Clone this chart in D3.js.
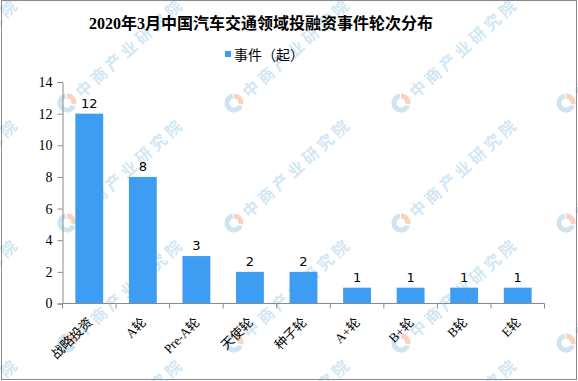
<!DOCTYPE html>
<html>
<head>
<meta charset="utf-8">
<script src="https://cdn.jsdelivr.net/npm/d3@7"></script>
<style>
  html, body { margin: 0; padding: 0; background: #fff; }
  svg { display: block; }
</style>
</head>
<body>
<svg id="chart" width="578" height="381"></svg>
<script>
// ---- data ----
const title = "2020年3月中国汽车交通领域投融资事件轮次分布";
const seriesName = "事件（起）";
const categories = ["战略投资", "A轮", "Pre-A轮", "天使轮", "种子轮", "A+轮", "B+轮", "B轮", "E轮"];
const values = [12, 8, 3, 2, 2, 1, 1, 1, 1];
const yTicks = [0, 2, 4, 6, 8, 10, 12, 14];
const watermarkText = "中商产业研究院";

// ---- layout ----
const W = 578, H = 381;
const plot = { left: 62.5, right: 544.5, top: 82, bottom: 303.5 };
const barColor = "#3d9df2";
const axisColor = "#8a8a8a";

const svg = d3.select("#chart");

svg.append("rect").attr("width", W).attr("height", H).attr("fill", "#fff");

// ---- watermark (decorative background) ----
const wmCols = [-98, 67, 234, 401, 566];
const wmRows = [-17, 103, 223, 343, 463];
const wm = svg.append("g").attr("class", "watermark");
wmRows.forEach(ry => wmCols.forEach(cx => {
  const g = wm.append("g").attr("transform", `translate(${cx},${ry})`);
  const arc = d3.arc().innerRadius(4.5).outerRadius(9.5);
  g.append("path").attr("d", arc({startAngle: Math.PI * 0.62, endAngle: Math.PI * 1.95}))
    .attr("fill", "#cfe3f1");
  g.append("path").attr("d", arc({startAngle: 0, endAngle: Math.PI * 0.55}))
    .attr("fill", "#f9d3c0");
  g.append("text")
    .attr("transform", "rotate(-42) translate(14,0)")
    .attr("dominant-baseline", "central")
    .attr("font-family", "'Noto Sans CJK SC', sans-serif")
    .attr("font-weight", "bold")
    .attr("font-size", 16)
    .attr("letter-spacing", 4)
    .attr("fill", "#d3e6f3")
    .text(watermarkText);
}));

// ---- scales ----
const x = d3.scaleBand().domain(categories).range([plot.left, plot.right]).paddingInner(0.48).paddingOuter(0.24);
const xb = d3.scaleBand().domain(categories).range([plot.left, plot.right]).padding(0);
const y = d3.scaleLinear().domain([0, 14]).range([plot.bottom, plot.top]);

// ---- bars ----
svg.append("g").selectAll("rect").data(values).join("rect")
  .attr("x", (d, i) => x(categories[i]))
  .attr("width", x.bandwidth())
  .attr("y", d => y(d))
  .attr("height", d => y(0) - y(d))
  .attr("fill", barColor);

// ---- value labels ----
svg.append("g").selectAll("text").data(values).join("text")
  .attr("x", (d, i) => x(categories[i]) + x.bandwidth() / 2)
  .attr("y", d => y(d) - 6)
  .attr("text-anchor", "middle")
  .attr("font-family", "'DejaVu Sans', sans-serif")
  .attr("font-size", 13)
  .attr("fill", "#000")
  .text(d => d);

// ---- y axis ----
const yAxis = svg.append("g")
  .attr("transform", `translate(${plot.left},0)`)
  .call(d3.axisLeft(y).tickValues(yTicks).tickSize(5).tickPadding(5));
yAxis.select(".domain").attr("stroke", axisColor);
yAxis.selectAll(".tick line").attr("stroke", axisColor);
yAxis.selectAll(".tick text")
  .attr("font-family", "'Liberation Serif', serif")
  .attr("font-size", 14)
  .attr("fill", "#000");

// ---- x axis ----
const xAxisG = svg.append("g").attr("transform", `translate(0,${plot.bottom})`);
xAxisG.append("line")
  .attr("x1", plot.left).attr("x2", plot.right)
  .attr("stroke", axisColor);
const boundaries = categories.map(c => xb(c)).concat([plot.right]);
xAxisG.selectAll("line.tk").data(boundaries).join("line")
  .attr("class", "tk")
  .attr("x1", d => d).attr("x2", d => d)
  .attr("y1", 0).attr("y2", 5)
  .attr("stroke", axisColor);
xAxisG.selectAll("text").data(categories).join("text")
  .attr("transform", c => `translate(${xb(c) + xb.bandwidth() / 2 + 4},${323 - plot.bottom}) rotate(-45)`)
  .attr("text-anchor", "end")
  .attr("font-family", "'Liberation Serif', 'Noto Sans CJK SC', serif")
  .attr("font-size", 13)
  .attr("fill", "#000")
  .text(c => c);

// ---- title ----
svg.append("text")
  .attr("x", 261).attr("y", 29)
  .attr("text-anchor", "middle")
  .attr("font-family", "'Liberation Serif', 'Noto Sans CJK SC', serif")
  .attr("font-weight", "bold")
  .attr("font-size", 16)
  .attr("fill", "#000")
  .text(title);

// ---- legend ----
const lg = svg.append("g").attr("transform", "translate(225,51)");
lg.append("rect").attr("x", 0).attr("y", 0).attr("width", 6).attr("height", 6).attr("fill", barColor);
lg.append("text")
  .attr("x", 9).attr("y", 3)
  .attr("dominant-baseline", "central")
  .attr("font-family", "'Noto Sans CJK SC', sans-serif")
  .attr("font-size", 14)
  .attr("fill", "#000")
  .text(seriesName);

// ---- outer border ----
svg.append("rect")
  .attr("x", 1.5).attr("y", 0.5)
  .attr("width", 575).attr("height", 379)
  .attr("fill", "none")
  .attr("stroke", axisColor);
</script>
</body>
</html>
